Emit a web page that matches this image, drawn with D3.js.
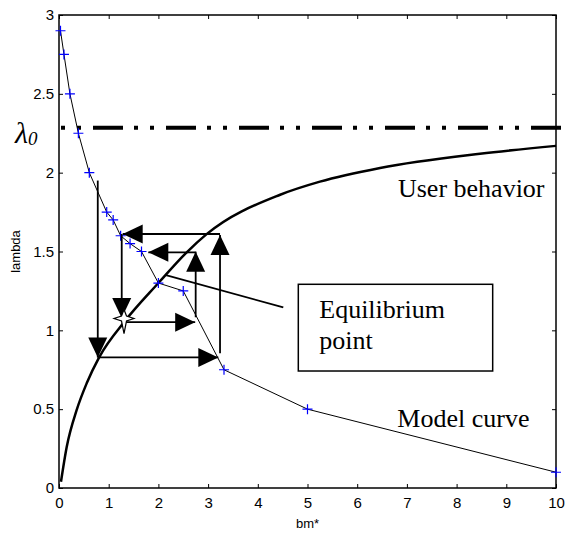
<!DOCTYPE html>
<html>
<head>
<meta charset="utf-8">
<script src="https://cdn.jsdelivr.net/npm/d3@7"></script>
<style>
  body { margin: 0; background: #fff; }
  svg { display: block; }
</style>
</head>
<body>
<div id="chart"></div>
<script>
// values
const modelX = [0.03, 0.1, 0.22, 0.39, 0.61, 0.96, 1.09, 1.24, 1.43, 1.66, 2.0, 2.5, 3.32, 5, 10];
const modelY = [2.9, 2.75, 2.5, 2.25, 2.0, 1.75, 1.7, 1.6, 1.55, 1.5, 1.3, 1.25, 0.75, 0.5, 0.1];

const userX = [0.04, 0.155, 0.356, 0.557, 0.81, 1.33, 2.0, 2.57, 2.97, 4.45, 5.25, 6.46, 8.47, 10];
const userY = [0.04, 0.26, 0.495, 0.664, 0.83, 1.06, 1.30, 1.495, 1.61, 1.86, 1.943, 2.03, 2.12, 2.17];

const lambda0 = 2.285;

// cobweb arrows: [x1, y1, x2, y2], head at the second point
const arrows = [
  [0.78, 1.95, 0.78, 0.828],
  [0.78, 0.828, 3.205, 0.828],
  [3.24, 0.854, 3.24, 1.605],
  [3.24, 1.611, 1.282, 1.611],
  [1.262, 1.611, 1.262, 1.078],
  [1.31, 1.052, 2.74, 1.052],
  [2.75, 1.083, 2.75, 1.499],
  [2.75, 1.495, 1.797, 1.495]
];
const equilibrium = [1.308, 1.075];

const xTicks = [0, 1, 2, 3, 4, 5, 6, 7, 8, 9, 10];
const yTicks = [0, 0.5, 1, 1.5, 2, 2.5, 3];

const W = 574, H = 535;
const margin = {top: 15, right: 18, bottom: 47, left: 59};

const svg = d3.select("#chart")
  .append("svg")
    .attr("width", W)
    .attr("height", H);

const x = d3.scaleLinear().domain([0, 10]).range([margin.left, W - margin.right]);
const y = d3.scaleLinear().domain([0, 3]).range([H - margin.bottom, margin.top]);

// axes, ticks inward on all four sides
const tickFont = "'Liberation Sans', Arial, sans-serif";

svg.append("g")
  .attr("transform", `translate(0,${y(0)})`)
  .call(d3.axisBottom(x).tickValues(xTicks).tickFormat(d => String(d))
    .tickSizeInner(-4).tickSizeOuter(0).tickPadding(9))
  .call(g => g.select(".domain").remove())
  .call(g => g.selectAll("text").style("font-size", "15px").style("font-family", tickFont).attr("fill", "#000"));

svg.append("g")
  .attr("transform", `translate(${x(0)},0)`)
  .call(d3.axisLeft(y).tickValues(yTicks).tickFormat(d => String(d))
    .tickSizeInner(-4).tickSizeOuter(0).tickPadding(5))
  .call(g => g.select(".domain").remove())
  .call(g => g.selectAll("text").style("font-size", "15px").style("font-family", tickFont).attr("fill", "#000"));

svg.append("g")
  .attr("transform", `translate(0,${y(3)})`)
  .call(d3.axisTop(x).tickValues(xTicks).tickSizeInner(-4).tickSizeOuter(0).tickFormat(""))
  .call(g => g.select(".domain").remove());

svg.append("g")
  .attr("transform", `translate(${x(10)},0)`)
  .call(d3.axisRight(y).tickValues(yTicks).tickSizeInner(-4).tickSizeOuter(0).tickFormat(""))
  .call(g => g.select(".domain").remove());

svg.selectAll(".tick line").attr("stroke", "#000").attr("stroke-width", 1);

svg.append("rect")
  .attr("x", x(0)).attr("y", y(3))
  .attr("width", x(10) - x(0)).attr("height", y(0) - y(3))
  .attr("fill", "none").attr("stroke", "#000").attr("stroke-width", 1.5);

// axis titles
svg.append("text")
  .attr("x", (x(0) + x(10)) / 2).attr("y", 528)
  .attr("text-anchor", "middle")
  .style("font-family", tickFont).style("font-size", "13px")
  .text("bm*");

svg.append("text")
  .attr("transform", `translate(20,${(y(0) + y(3)) / 2}) rotate(-90)`)
  .attr("text-anchor", "middle")
  .style("font-family", tickFont).style("font-size", "13px")
  .text("lambda");

// lambda0 dash-dot line
svg.append("line")
  .attr("x1", x(0)).attr("x2", x(10) + 5)
  .attr("y1", y(lambda0)).attr("y2", y(lambda0))
  .attr("stroke", "#000").attr("stroke-width", 4)
  .attr("stroke-dasharray", "30,11,4,12,4,12")
  .attr("stroke-dashoffset", 39);

const serif = "'Liberation Serif', 'Times New Roman', serif";
const lam = svg.append("text")
  .attr("x", 15).attr("y", y(lambda0) + 15)
  .style("font-family", serif).style("font-style", "italic").style("font-size", "30px")
  .text("λ");
lam.append("tspan").attr("dx", 0).attr("dy", 2).style("font-size", "19px").text("0");

// user behavior curve
const userData = userX.map((d, i) => [d, userY[i]]);
svg.append("path")
  .datum(userData)
  .attr("fill", "none").attr("stroke", "#000").attr("stroke-width", 2.5)
  .attr("d", d3.line().x(d => x(d[0])).y(d => y(d[1])).curve(d3.curveMonotoneX));

// model curve
const modelData = modelX.map((d, i) => [d, modelY[i]]);
svg.append("path")
  .datum(modelData)
  .attr("fill", "none").attr("stroke", "#000").attr("stroke-width", 1)
  .attr("d", d3.line().x(d => x(d[0])).y(d => y(d[1])));

svg.selectAll(".plus")
  .data(modelData)
  .join("path")
    .attr("class", "plus")
    .attr("transform", d => `translate(${x(d[0])},${y(d[1])})`)
    .attr("d", "M-5,0H5M0,-5V5")
    .attr("stroke", "#0000ff").attr("stroke-width", 1.2);

// cobweb arrows
const headLen = 20, headW = 9.5;
arrows.forEach(a => {
  const x1 = x(a[0]), y1 = y(a[1]), x2 = x(a[2]), y2 = y(a[3]);
  const ang = Math.atan2(y2 - y1, x2 - x1);
  svg.append("line")
    .attr("x1", x1).attr("y1", y1).attr("x2", x2).attr("y2", y2)
    .attr("stroke", "#000").attr("stroke-width", 1.8);
  const bx = x2 - headLen * Math.cos(ang), by = y2 - headLen * Math.sin(ang);
  const px = -Math.sin(ang) * headW, py = Math.cos(ang) * headW;
  svg.append("path")
    .attr("d", `M${x2},${y2}L${bx + px},${by + py}L${bx - px},${by - py}Z`)
    .attr("fill", "#000");
});

// equilibrium star
svg.append("path")
  .attr("transform", `translate(${x(equilibrium[0])},${y(equilibrium[1])})`)
  .attr("d", "M0,-9L2.5,-2.5L10,0L2.5,2.5L0,15L-2.5,2.5L-10,0L-2.5,-2.5Z")
  .attr("fill", "#fff").attr("stroke", "#000").attr("stroke-width", 1.2);

// annotation
svg.append("line")
  .attr("x1", x(2.133)).attr("y1", y(1.351))
  .attr("x2", x(4.513)).attr("y2", y(1.146))
  .attr("stroke", "#000").attr("stroke-width", 1.8);

svg.append("rect")
  .attr("x", x(4.815)).attr("y", y(1.292))
  .attr("width", x(8.726) - x(4.815)).attr("height", y(0.742) - y(1.292))
  .attr("fill", "#fff").attr("stroke", "#000").attr("stroke-width", 1.5);

const labels = [
  {t: "Equilibrium", x: 5.237, y: 1.076},
  {t: "point", x: 5.237, y: 0.882},
  {t: "User behavior", x: 6.82, y: 1.844},
  {t: "Model curve", x: 6.807, y: 0.389}
];
svg.selectAll(".lbl")
  .data(labels)
  .join("text")
    .attr("class", "lbl")
    .attr("x", d => x(d.x)).attr("y", d => y(d.y))
    .style("font-family", serif).style("font-size", "26px")
    .text(d => d.t);
</script>
</body>
</html>
